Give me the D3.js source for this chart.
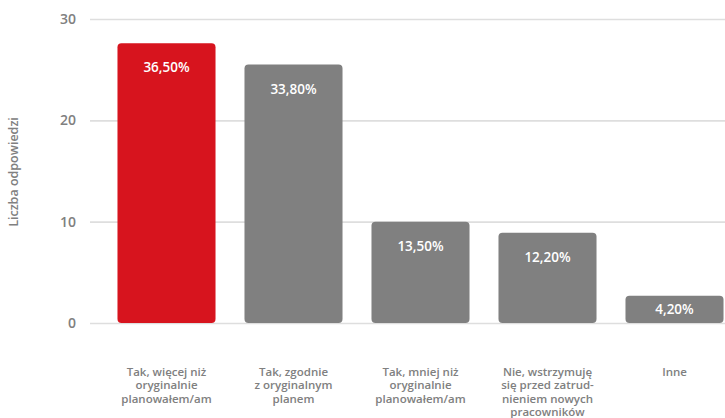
<!DOCTYPE html>
<html>
<head>
<meta charset="utf-8">
<script src="https://cdn.jsdelivr.net/npm/d3@7"></script>
<style>
  html, body { margin: 0; padding: 0; background: #fff; }
  svg { display: block; font-family: "Open Sans", "Noto Sans", sans-serif; }
</style>
</head>
<body>
<svg id="chart" width="725" height="418"></svg>
<script>
const categories = [
  ["Tak, więcej niż", "oryginalnie", "planowałem/am"],
  ["Tak, zgodnie", "z oryginalnym", "planem"],
  ["Tak, mniej niż", "oryginalnie", "planowałem/am"],
  ["Nie, wstrzymuję", "się przed zatrud-", "nieniem nowych", "pracowników"],
  ["Inne"]
];
const counts = [27.6, 25.5, 10.0, 8.9, 2.7];
const percentLabels = ["36,50%", "33,80%", "13,50%", "12,20%", "4,20%"];
const yTicks = [0, 10, 20, 30];
const yTitle = "Liczba odpowiedzi";
const highlightIndex = 0;

const svg = d3.select("#chart");
const plot = { left: 90, right: 725, top: 19, bottom: 323 };

const idx = categories.map((d, i) => i);
const x = d3.scaleBand()
  .domain(idx)
  .range([103, 738])
  .paddingInner(0.228)
  .paddingOuter(0.114);
const y = d3.scaleLinear().domain([0, 30]).range([plot.bottom, plot.top]);

const yAxis = d3.axisLeft(y)
  .tickValues(yTicks)
  .tickSize(-(plot.right - plot.left))
  .tickPadding(14);
const gy = svg.append("g")
  .attr("transform", `translate(${plot.left},0)`)
  .call(yAxis);
gy.select(".domain").remove();
gy.selectAll(".tick line")
  .attr("stroke", "#dedede")
  .attr("stroke-width", 1.6);
gy.selectAll(".tick text")
  .attr("fill", "#808080")
  .attr("font-size", 14)
  .attr("font-weight", 600)
  .attr("font-family", "'Open Sans', sans-serif");

svg.append("text")
  .attr("transform", `translate(18,172) rotate(-90)`)
  .attr("text-anchor", "middle")
  .attr("fill", "#808080")
  .attr("font-size", 12.5)
  .attr("font-weight", 600)
  .text(yTitle);

svg.append("g").selectAll("rect")
  .data(counts)
  .join("rect")
  .attr("x", (d, i) => x(i))
  .attr("y", d => y(d))
  .attr("width", x.bandwidth())
  .attr("height", d => y(0) - y(d))
  .attr("rx", 4)
  .attr("fill", (d, i) => i === highlightIndex ? "#D7141E" : "#808080");

svg.append("g").selectAll("text")
  .data(counts)
  .join("text")
  .attr("x", (d, i) => x(i) + x.bandwidth() / 2)
  .attr("y", d => {
    const h = y(0) - y(d);
    return y(d) + Math.min(24, h / 2) + 5;
  })
  .attr("text-anchor", "middle")
  .attr("fill", "#fff")
  .attr("font-size", 13.5)
  .attr("font-weight", 600)
  .text((d, i) => percentLabels[i]);

const cat = svg.append("g").selectAll("text")
  .data(categories)
  .join("text")
  .attr("x", (d, i) => x(i) + x.bandwidth() / 2)
  .attr("y", 376)
  .attr("text-anchor", "middle")
  .attr("fill", "#808080")
  .attr("font-size", 11.5)
  .attr("font-weight", 600);
cat.each(function(lines, i) {
  d3.select(this).selectAll("tspan")
    .data(lines)
    .join("tspan")
    .attr("x", x(i) + x.bandwidth() / 2)
    .attr("dy", (l, j) => j === 0 ? 0 : 13.4)
    .text(l => l);
});
</script>
</body>
</html>
